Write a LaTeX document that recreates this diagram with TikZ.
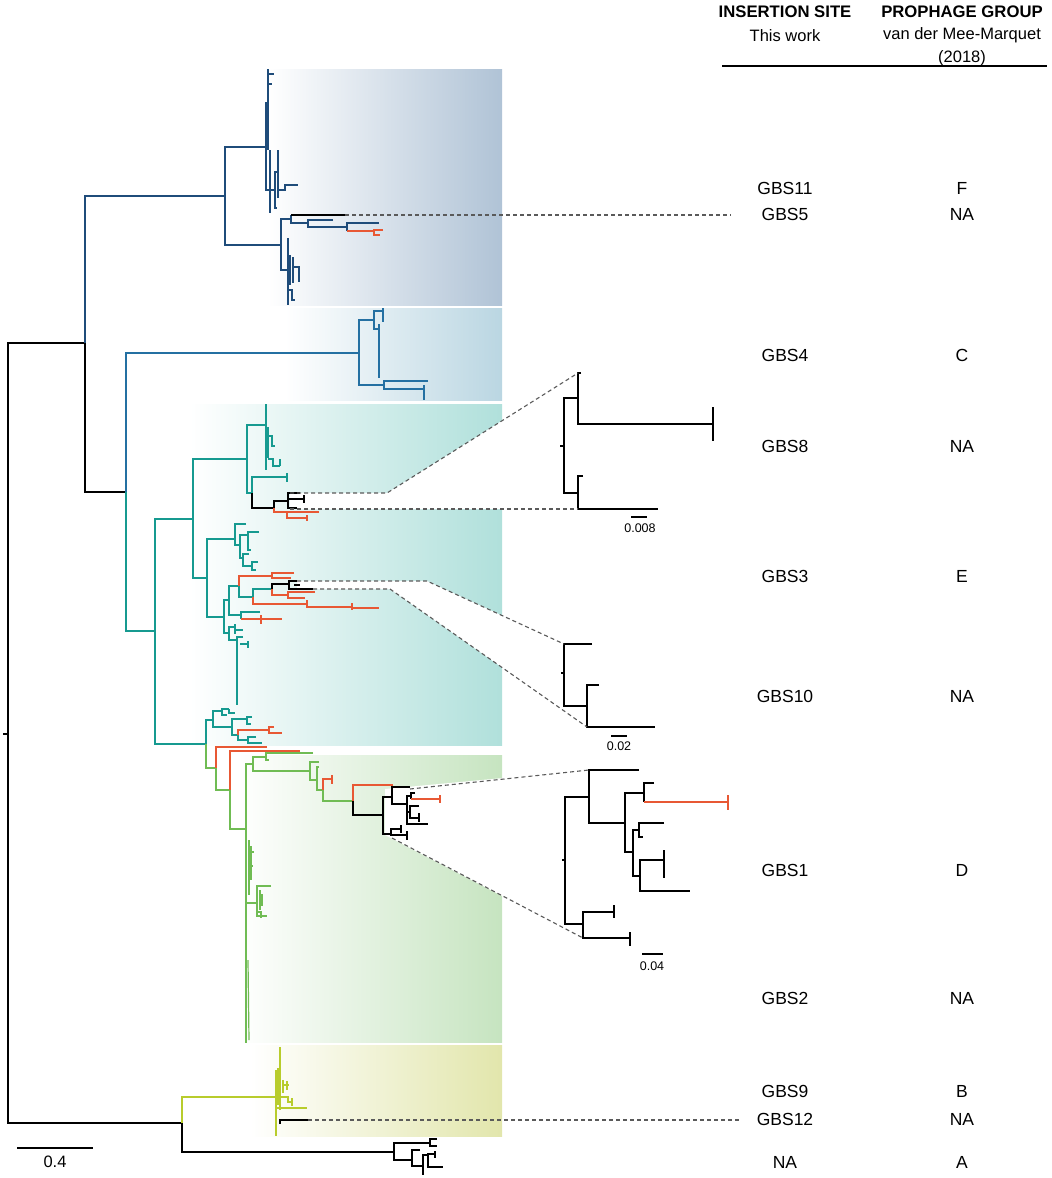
\documentclass[tikz,border=0pt]{standalone}
\usepackage{fontspec}
\setmainfont{Liberation Sans}
\definecolor{dblue}{RGB}{31,76,122}
\definecolor{mblue}{RGB}{36,112,162}
\definecolor{cteal}{RGB}{22,154,144}
\definecolor{cgreen}{RGB}{112,188,84}
\definecolor{cyellow}{RGB}{184,204,44}
\definecolor{cred}{RGB}{232,88,52}
\definecolor{bgdblue}{RGB}{176,195,214}
\definecolor{bgmblue}{RGB}{186,214,226}
\definecolor{bgteal}{RGB}{176,224,219}
\definecolor{bggreen}{RGB}{198,228,192}
\definecolor{bgyellow}{RGB}{226,230,172}
\definecolor{dashgray}{RGB}{90,90,90}
\tikzset{
  ln/.style={line width=1.8pt},
  fine/.style={line width=1.2pt},
  zoomline/.style={draw=dashgray, line width=1.1pt, dash pattern=on 4pt off 3pt},
  lbl/.style={font=\fontsize{17.5}{20}\selectfont, inner sep=0pt},
  head/.style={font=\fontsize{16.7}{20}\selectfont\bfseries, inner sep=0pt},
  sub/.style={font=\fontsize{16.5}{20}\selectfont, inner sep=0pt},
  scl/.style={font=\fontsize{12.5}{14}\selectfont, inner sep=0pt}
}
\begin{document}
\begin{tikzpicture}[x=1pt, y=-1pt]
	\useasboundingbox (0,0) rectangle (1052,1178);

	% Clade backgrounds
	\shade[left color=white, right color=bgdblue] (268,69) rectangle (502,305);
	\shade[left color=white, right color=bgmblue] (285,308) rectangle (502,400);
	\shade[left color=white, right color=bgteal] (190,404) rectangle (502,745);
	\shade[left color=white, right color=bggreen] (238,755) rectangle (502,1042);
	\shade[left color=white, right color=bgyellow] (250,1045) rectangle (502,1136);

	% White wedges behind the zoomed subtrees
	\fill[white] (290,493) -- (387,493) -- (578,373) -- (578,509) -- (290,509) -- cycle;
	\fill[white] (297,581) -- (427,581) -- (564,644) -- (587,727) -- (390,589) -- (297,589) -- cycle;
	\fill[white] (385,789) -- (589,770) -- (583,938) -- (385,835) -- cycle;

	% Root
	\draw[ln] (85,343) -| (8,1123) -- (182,1123);
	\draw[ln] (3,734) -- (8,734);
	\draw[ln, dblue] (225,196) -| (85,343);
	\draw[ln] (85,343) |- (126,492);
	\draw[ln, mblue] (359,353) -| (126,492);
	\draw[ln, cteal] (126,492) |- (155,631);

	% Dark blue clade (GBS11, GBS5)
	\draw[ln, dblue] (266,147) -| (225,245) -- (281,245);
	\draw[ln, dblue] (268,103) -| (266,190) -- (275,190);
	\draw[fine, dblue] (268,69) -- (268,150);
	\draw[fine, dblue] (268,74) -- (274,74);
	\draw[fine, dblue] (268,84) -- (272,84);
	\draw[fine, dblue] (270,150) -- (270,213);
	\draw[ln, dblue] (278,172) -| (275,208) -- (277,208);
	\draw[fine, dblue] (278,150) -- (278,198);
	\draw[fine, dblue] (278,190) -| (285,185) -- (298,185);
	\draw[ln, dblue] (291,219) -| (281,270) -- (288,270);
	\draw[ln, dblue] (291,215) |- (308,223);
	\draw[ln] (291,215) -- (345,215);
	\draw[ln, dblue] (333,220) -| (308,227) -- (347,227);
	\draw[ln, dblue] (379,223) -| (347,231);
	\draw[ln, cred] (347,231) -- (373,231);
	\draw[fine, cred] (383,230) -| (374,235) -- (380,235);
	\draw[fine, dblue] (288,238) -- (288,305);
	\draw[fine, dblue] (290,255) -- (290,285);
	\draw[fine, dblue] (293,257) -- (293,283);
	\draw[fine, dblue] (293,267) -| (299,282);
	\draw[fine, dblue] (288,290) -| (292,300) -- (295,300);

	% Medium blue clade (GBS4)
	\draw[ln, mblue] (374,320) -| (359,385) -- (384,385);
	\draw[ln, mblue] (383,311) -| (374,329) -- (379,329);
	\draw[ln, mblue] (383,308) -- (383,322);
	\draw[fine, mblue] (379,324) -- (379,378);
	\draw[ln, mblue] (428,381) -| (384,389) -- (424,389);
	\draw[ln, mblue] (424,385) -- (424,400);

	% Teal clade (GBS8, GBS3, GBS10)
	\draw[ln, cteal] (193,519) -| (155,744) -- (206,744);
	\draw[ln, cteal] (247,459) -| (193,578) -- (207,578);
	\draw[ln, cteal] (266,425) -| (247,493) -- (252,493);
	\draw[fine, cteal] (266,404) -- (266,470);
	\draw[fine, cteal] (268,427) -- (268,458);
	\draw[fine, cteal] (268,436) -| (272,446) -- (275,446);
	\draw[fine, cteal] (268,459) -| (273,466) -- (280,466);
	\draw[fine, cteal] (280,459) -- (280,466);
	\draw[ln, cteal] (287,477) -| (252,493);
	\draw[ln, cteal] (287,473) -- (287,482);
	\draw[ln] (252,493) |- (274,508);
	\draw[ln] (288,501) -| (274,508);
	\draw[ln, cred] (274,508) |- (287,512);
	\draw[ln] (300,493) -| (288,508) -- (297,508);
	\draw[ln] (288,499) -- (304,499);
	\draw[ln] (304,495) -- (304,503);
	\draw[ln, cred] (319,512) -| (287,518) -- (307,518);
	\draw[ln, cred] (307,515) -- (307,521);
	\draw[ln, cteal] (235,539) -| (207,617) -- (224,617);
	\draw[ln, cteal] (246,524) -| (235,545) -- (240,545);
	\draw[ln, cteal] (248,535) -| (240,558) -- (243,558);
	\draw[fine, cteal] (259,532) -| (248,550) -- (251,550);
	\draw[fine, cteal] (249,554) -| (243,566) -- (252,566);
	\draw[fine, cteal] (258,562) -| (252,570) -- (256,570);
	\draw[ln, cteal] (229,600) -| (224,633) -- (229,633);
	\draw[ln, cteal] (239,586) -| (229,615) -- (241,615);
	\draw[ln, cred] (272,576) -| (239,586);
	\draw[ln, cteal] (239,586) |- (253,597);
	\draw[ln, cred] (294,573) -| (272,578) -- (291,578);
	\draw[ln, cteal] (272,589) -| (253,597);
	\draw[ln, cred] (253,597) |- (307,604);
	\draw[ln] (289,584) -| (272,589);
	\draw[ln, cred] (272,589) |- (288,595);
	\draw[ln, cred] (315,592) -| (288,598) -- (305,598);
	\draw[ln] (297,581) -| (289,589) -- (313,589);
	\draw[fine] (294,585) -- (300,585);
	\draw[ln, cred] (307,600) -- (307,607) -- (352,607);
	\draw[ln, cred] (352,603) -- (352,610);
	\draw[ln, cred] (352,608) -- (379,608);
	\draw[ln, cteal] (260,612) -| (241,619);
	\draw[ln, cred] (241,619) -- (282,619);
	\draw[ln, cred] (261,615) -- (261,624);
	\draw[ln, cteal] (235,627) -| (229,640) -- (237,640);
	\draw[fine, cteal] (235,624) -- (235,634);
	\draw[fine, cteal] (235,630) -- (243,630);
	\draw[fine, cteal] (243,637) -| (237,705);
	\draw[fine, cteal] (240,644) -- (248,644);
	\draw[fine, cteal] (248,641) -- (248,648);
	\draw[ln, cteal] (213,720) -| (206,744);
	\draw[ln, cteal] (222,711) -| (213,727) -- (232,727);
	\draw[ln, cteal] (229,709) -| (222,715) -- (227,715);
	\draw[fine, cteal] (229,709) -- (229,713) -- (235,713);
	\draw[ln, cteal] (247,719) -| (232,735) -- (238,735);
	\draw[fine, cteal] (252,717) -| (247,724) -- (251,724);
	\draw[ln, cred] (269,730) -| (238,735);
	\draw[ln, cteal] (238,735) |- (248,740);
	\draw[fine, cred] (274,727) -| (269,733) -- (282,733);
	\draw[fine, cteal] (256,737) -| (248,743) -- (262,743);

	% Green clade (GBS1, GBS2)
	\draw[ln, cgreen] (206,744) |- (216,768);
	\draw[ln, cred] (267,747) -| (216,768);
	\draw[ln, cgreen] (216,768) |- (230,790);
	\draw[ln, cred] (300,751) -| (230,790);
	\draw[ln, cgreen] (230,790) |- (246,829);
	\draw[ln, cgreen] (253,764) -| (246,1043);
	\draw[ln, cgreen] (266,757) -| (253,771) -- (310,771);
	\draw[ln, cgreen] (313,753) -| (266,760) -- (269,760);
	\draw[ln, cgreen] (319,762) -| (310,780) -- (317,780);
	\draw[ln, cgreen] (319,767) -| (317,790) -- (323,790);
	\draw[ln, cred] (332,779) -| (323,790);
	\draw[ln, cred] (332,775) -- (332,784);
	\draw[ln, cgreen] (323,790) |- (353,801);
	\draw[ln, cred] (393,785) -| (353,801);
	\draw[ln] (353,801) |- (383,815);
	\draw[ln] (392,797) -| (383,834) -- (391,834);
	\draw[ln] (410,787) -| (392,804) -- (407,804);
	\draw[ln] (411,796) -| (407,824) -- (428,824);
	\draw[ln] (415,793) -| (411,799);
	\draw[ln, cred] (411,799) -- (440,799);
	\draw[ln, cred] (440,795) -- (440,803);
	\draw[ln] (407,812) -- (410,812);
	\draw[ln] (419,806) -| (410,818) -- (419,818);
	\draw[ln] (419,813) -- (419,822);
	\draw[ln] (401,829) -| (391,835) -- (407,835);
	\draw[ln] (401,825) -- (401,833);
	\draw[ln] (407,831) -- (407,840);
	\draw[fine, cgreen] (249,840) -- (249,895);
	\draw[fine, cgreen] (251,846) -- (251,880);
	\draw[fine, cgreen] (249,852) -- (254,852);
	\draw[fine, cgreen] (249,866) -- (253,866);
	\draw[ln, cgreen] (246,903) -- (257,903);
	\draw[ln, cgreen] (271,886) -| (257,916) -- (267,916);
	\draw[fine, cgreen] (260,890) -- (260,910);
	\draw[fine, cgreen] (262,894) -- (262,906);
	\draw[fine, cgreen] (257,912) -| (261,918);
	\draw[fine, cgreen] (248,960) -- (249,1040);

	% Yellow clade (GBS9, GBS12)
	\draw[ln, cyellow] (276,1097) -| (182,1123);
	\draw[ln] (182,1123) |- (394,1152);
	\draw[ln, cyellow] (276,1070) -- (276,1136);
	\draw[fine, cyellow] (280,1047) -- (280,1110);
	\draw[fine, cyellow] (278,1068) -- (278,1105);
	\draw[fine, cyellow] (283,1080) -- (283,1093);
	\draw[fine, cyellow] (283,1085) -- (289,1085);
	\draw[fine, cyellow] (287,1081) -- (287,1090);
	\draw[fine, cyellow] (280,1097) -| (288,1102) -- (293,1102);
	\draw[fine, cyellow] (292,1098) -- (292,1106);
	\draw[ln, cyellow] (276,1108) -- (307,1108);
	\draw[ln] (280,1124) |- (308,1120);

	% Outgroup (NA / A)
	\draw[ln] (430,1143) -| (394,1160) -- (412,1160);
	\draw[ln] (437,1139) -| (430,1146) -- (437,1146);
	\draw[ln] (420,1150) -| (412,1166) -- (423,1166);
	\draw[ln] (428,1155) -| (423,1175);
	\draw[ln] (435,1154) -| (428,1167) -- (443,1167);
	\draw[ln] (435,1151) -- (435,1158);

	% Zoom: GBS8 subtree
	\draw[ln] (578,398) -| (564,493) -- (578,493);
	\draw[ln] (560,446) -- (564,446);
	\draw[ln] (581,373) -| (578,424) -- (713,424);
	\draw[ln] (713,407) -- (713,441);
	\draw[ln] (583,476) -| (578,509) -- (658,509);
	\draw[ln] (631,517) -- (647,517);
	\node[scl] (s008) at (640,528) {0.008};

	% Zoom: GBS3 subtree
	\draw[ln] (592,644) -| (564,706) -- (587,706);
	\draw[ln] (561,673) -- (564,673);
	\draw[ln] (599,685) -| (587,727) -- (655,727);
	\draw[ln] (611,736) -- (627,736);
	\node[scl] (s002) at (619,746) {0.02};

	% Zoom: GBS1 subtree
	\draw[ln] (589,797) -| (565,924) -- (583,924);
	\draw[ln] (562,860) -- (565,860);
	\draw[ln] (639,770) -| (589,823) -- (625,823);
	\draw[ln] (644,793) -| (625,852) -- (633,852);
	\draw[ln] (654,783) -| (644,802);
	\draw[ln, cred] (644,802) -- (728,802);
	\draw[ln, cred] (728,795) -- (728,810);
	\draw[ln] (639,830) -| (633,876) -- (640,876);
	\draw[ln] (664,823) -| (639,837) -- (643,837);
	\draw[ln] (664,860) -| (640,891) -- (690,891);
	\draw[ln] (664,850) -- (664,878);
	\draw[ln] (614,912) -| (583,938) -- (630,938);
	\draw[ln] (614,905) -- (614,918);
	\draw[ln] (630,932) -- (630,946);
	\draw[ln] (642,954) -- (663,954);
	\node[scl] (s004) at (652,966) {0.04};

	% Scale bar
	\draw[ln] (17,1148) -- (93,1148);
	\node[sub] (s04) at (55,1162) {0.4};

	% Header
	\node[head] (hsite) at (785,12) {INSERTION SITE};
	\node[sub] (hwork) at (785,36) {This work};
	\node[head] (hgroup) at (962,12) {PROPHAGE GROUP};
	\node[sub] (hmee) at (962,35) {van der Mee-Marquet};
	\node[sub] (hyear) at (962,58) {(2018)};
	\draw[line width=1.3pt] (722,66) -- (1047,66);

	% Insertion sites and prophage groups
	\node[lbl] (gbs11) at (785,188) {GBS11};  \node[lbl] (pf) at (962,188) {F};
	\node[lbl] (gbs5) at (785,214) {GBS5};    \node[lbl] (pna5) at (962,214) {NA};
	\node[lbl] (gbs4) at (785,355) {GBS4};    \node[lbl] (pc) at (962,355) {C};
	\node[lbl] (gbs8) at (785,446) {GBS8};    \node[lbl] (pna8) at (962,446) {NA};
	\node[lbl] (gbs3) at (785,576) {GBS3};    \node[lbl] (pe) at (962,576) {E};
	\node[lbl] (gbs10) at (785,696) {GBS10};  \node[lbl] (pna10) at (962,696) {NA};
	\node[lbl] (gbs1) at (785,870) {GBS1};    \node[lbl] (pd) at (962,870) {D};
	\node[lbl] (gbs2) at (785,998) {GBS2};    \node[lbl] (pna2) at (962,998) {NA};
	\node[lbl] (gbs9) at (785,1091) {GBS9};   \node[lbl] (pb) at (962,1091) {B};
	\node[lbl] (gbs12) at (785,1119) {GBS12}; \node[lbl] (pna12) at (962,1119) {NA};
	\node[lbl] (sna) at (785,1162) {NA};      \node[lbl] (pa) at (962,1162) {A};

	% Dashed guides
	\coordinate (leaf5) at (345,215);
	\coordinate (leaf12) at (308,1120);
	\draw[zoomline] (leaf5) -- ([xshift=-30pt]gbs5.west |- leaf5);
	\draw[zoomline] (leaf12) -- ([xshift=-17pt]gbs12.west |- leaf12);
	\draw[zoomline] (290,493) -- (387,493) -- (578,373);
	\draw[zoomline] (290,509) -- (578,509);
	\draw[zoomline] (297,581) -- (427,581) -- (564,644);
	\draw[zoomline] (313,589) -- (390,589) -- (587,727);
	\draw[zoomline] (410,789) -- (589,770);
	\draw[zoomline] (392,838) -- (583,938);

\end{tikzpicture}
\end{document}
